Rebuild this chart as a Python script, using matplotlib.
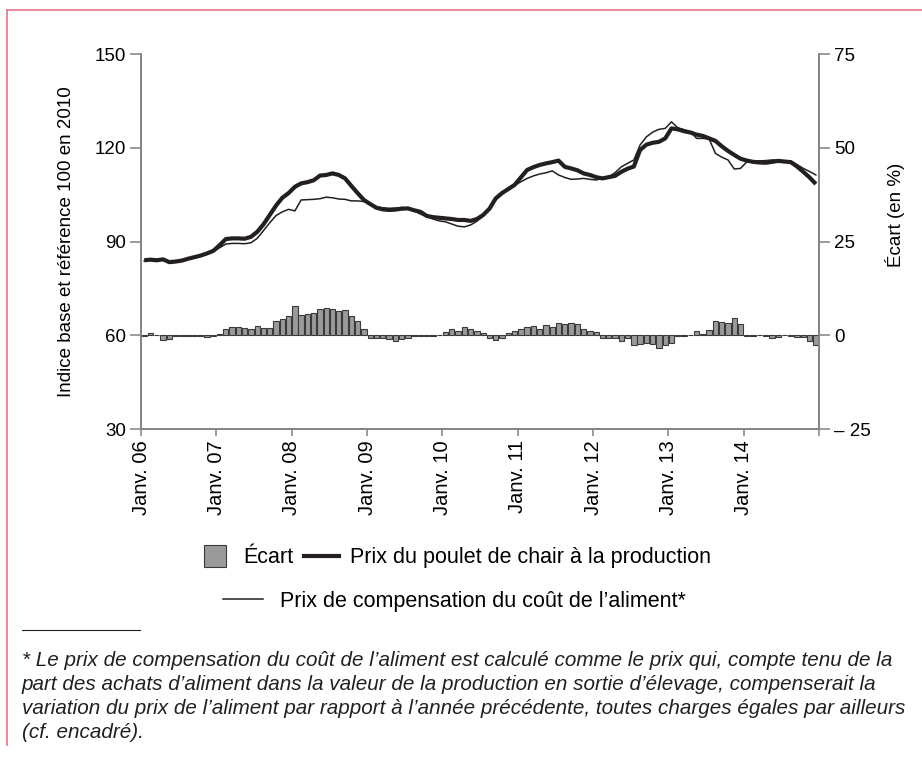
import matplotlib
matplotlib.use("Agg")
import matplotlib.pyplot as plt
from matplotlib.lines import Line2D
import numpy as np

plt.rcParams['font.family'] = ['Liberation Sans', 'DejaVu Sans']

# données mensuelles, janv. 2006 -> déc. 2014
annees = ["06", "07", "08", "09", "10", "11", "12", "13", "14"]

prix_poulet = [
    84.0, 84.2, 84.0, 84.3, 83.4, 83.6, 83.9, 84.5, 85.0, 85.5, 86.2, 87.0,
    88.8, 90.8, 91.0, 91.0, 90.9, 91.5, 93.1, 95.5, 98.5, 101.5, 104.0, 105.5,
    107.5, 108.6, 109.0, 109.6, 111.1, 111.3, 111.8, 111.3, 110.2, 107.8, 105.5, 103.3,
    102.0, 100.8, 100.3, 100.1, 100.2, 100.5, 100.6, 100.0, 99.5, 98.2, 97.8, 97.6,
    97.4, 97.2, 96.9, 96.9, 96.6, 97.2, 98.5, 100.5, 103.8, 105.5, 106.8, 108.1,
    110.5, 112.9, 113.8, 114.5, 115.0, 115.4, 115.9, 113.9, 113.4, 112.8, 111.8, 111.3,
    110.6, 110.2, 110.6, 111.0, 112.3, 113.3, 114.0, 119.3, 121.0, 121.6, 121.9, 123.0,
    126.2, 125.9, 125.3, 124.9, 124.2, 123.8, 123.0, 122.2, 120.5, 119.0, 117.7, 116.5,
    115.9, 115.5, 115.3, 115.2, 115.5, 115.8, 115.6, 115.4, 114.0, 112.3, 110.5, 108.4]

prix_compens = [
    83.8, 84.0, 84.0, 84.0, 83.6, 83.8, 84.0, 84.4, 84.9, 85.4, 86.0, 86.8,
    88.0, 89.2, 89.4, 89.4, 89.3, 89.6, 91.0, 93.5, 96.0, 98.3, 99.5, 100.3,
    99.8, 103.3, 103.4, 103.5, 103.7, 104.2, 104.0, 103.6, 103.5, 103.0, 103.0, 102.8,
    102.0, 101.1, 100.8, 100.6, 100.7, 100.9, 100.7, 99.8, 98.8, 98.0, 97.2, 96.6,
    96.3, 95.6, 94.9, 94.7, 95.3, 96.5, 98.2, 100.5, 103.4, 105.5, 106.5, 108.0,
    109.1, 110.2, 111.0, 111.6, 112.0, 112.6, 111.3, 110.5, 109.9, 110.0, 110.2, 109.9,
    109.7, 110.2, 110.7, 112.0, 113.9, 115.0, 116.1, 120.9, 123.5, 125.0, 125.9, 126.2,
    128.3, 126.4, 125.8, 125.1, 123.0, 123.0, 122.8, 118.2, 117.0, 116.1, 113.2, 113.4,
    115.5, 115.8, 115.8, 115.9, 116.1, 116.0, 115.8, 115.8, 114.6, 113.4, 112.4, 111.3]

ecart = [
    -0.2, 0.6, 0.0, -1.2, -1.0, -0.3, -0.3, -0.2, -0.2, -0.2, -0.4, -0.1,
    0.3, 1.8, 2.1, 2.1, 1.9, 1.7, 2.4, 2.0, 1.9, 3.7, 4.4, 5.1,
    7.9, 5.3, 5.6, 6.0, 6.9, 7.2, 7.1, 6.5, 6.7, 5.1, 3.8, 1.8,
    -0.8, -0.8, -0.6, -1.0, -1.4, -1.0, -0.8, -0.1, -0.3, -0.3, -0.3, 0.2,
    0.9, 1.7, 1.2, 2.2, 1.8, 1.1, 0.5, -0.8, -1.2, -0.8, 0.6, 1.2,
    1.8, 2.1, 2.5, 1.8, 2.7, 2.3, 3.2, 2.9, 3.4, 3.0, 1.8, 1.2,
    0.9, -0.6, -0.6, -0.6, -1.5, -0.8, -2.6, -2.4, -2.0, -2.4, -3.4, -2.7,
    -2.0, -0.3, -0.3, 0.2, 1.2, 0.3, 1.4, 3.9, 3.5, 3.3, 4.6, 3.0,
    -0.1, -0.2, 0.2, -0.2, -0.8, -0.5, 0.2, -0.3, -0.5, -0.5, -1.6, -2.5]

mois = np.arange(len(ecart)) + 0.5
noir = '#231f20'
gris_axe = '#808080'
gris_barre = '#9a9a9a'
bord_barre = '#3a3a3a'

fig = plt.figure(figsize=(9.22, 7.63), dpi=100)
ax = fig.add_axes([0.153, 0.4377, 0.7353, 0.4915])
ax2 = ax.twinx()
ax.set_zorder(ax2.get_zorder() + 1)
ax.patch.set_visible(False)

# barres écart (axe de droite)
ax2.bar(mois, ecart, width=0.85, color=gris_barre, edgecolor=bord_barre, linewidth=0.8)
ax2.set_ylim(-25, 75)
ax2.set_yticks([-25, 0, 25, 50, 75])
ax2.set_yticklabels(['– 25', '0', '25', '50', '75'])

# courbes (axe de gauche)
ax.plot(mois, prix_poulet, color=noir, lw=3.0, solid_capstyle='butt')
ax.plot(mois, prix_compens, color=noir, lw=1.1)
ax.set_ylim(30, 150)
ax.set_yticks([30, 60, 90, 120, 150])
ax.set_xlim(0, 108)
ax.set_xticks(np.arange(0, 109, 12))
ax.set_xticklabels(['Janv. ' + a for a in annees] + [''], rotation=90)

for a in (ax, ax2):
    for s in a.spines.values():
        s.set_color(gris_axe)
        s.set_linewidth(1.1)
    a.spines['top'].set_visible(False)
    a.tick_params(axis='both', colors=gris_axe, labelcolor='black', labelsize=13.5,
                  direction='out', length=8, width=1.1, pad=3)
ax.tick_params(axis='x', length=5, labelsize=14.5)

ax.set_ylabel('Indice base et référence 100 en 2010', fontsize=13.5)
ax.yaxis.set_label_coords(-0.097, 0.5)
ax2.set_ylabel('Écart (en %)', fontsize=13.5)
ax2.yaxis.set_label_coords(1.098, 0.57)

# légende sur deux lignes
carre = Line2D([], [], marker='s', markersize=16, linestyle='none',
               markerfacecolor=gris_barre, markeredgecolor=bord_barre, markeredgewidth=0.8)
fig.legend([carre, Line2D([], [], color=noir, lw=3.0)],
           ['Écart', 'Prix du poulet de chair à la production'], ncol=2,
           loc='center left', bbox_to_anchor=(0.194, 0.2687), frameon=False,
           fontsize=15.5, handlelength=1.6, columnspacing=0.5, handletextpad=0.5)
fig.legend([Line2D([], [], color=noir, lw=1.1)], ['Prix de compensation du coût de l’aliment*'],
           loc='center left', bbox_to_anchor=(0.2205, 0.2123), frameon=False,
           fontsize=15.5, handlelength=1.85, handletextpad=0.8)

# note de bas
fig.add_artist(Line2D([22 / 922, 140 / 922], [1 - 630 / 763] * 2, color=noir, lw=0.8))
note = ["* Le prix de compensation du coût de l’aliment est calculé comme le prix qui, compte tenu de la",
        "part des achats d’aliment dans la valeur de la production en sortie d’élevage, compenserait la",
        "variation du prix de l’aliment par rapport à l’année précédente, toutes charges égales par ailleurs",
        "(cf. encadré)."]
for i, l in enumerate(note):
    fig.text(22 / 922, 1 - (661 + 24 * i) / 763, l, fontsize=14.9, style='italic',
             va='center', ha='left', color=noir)

# cadre rose
rose = '#e57589'
fig.add_artist(Line2D([7 / 922, 1], [1 - 10 / 763] * 2, color=rose, lw=1.2))
fig.add_artist(Line2D([7 / 922] * 2, [1 - 10 / 763, 1 - 745 / 763], color=rose, lw=1.2))

fig.savefig('out.png', dpi=100)
